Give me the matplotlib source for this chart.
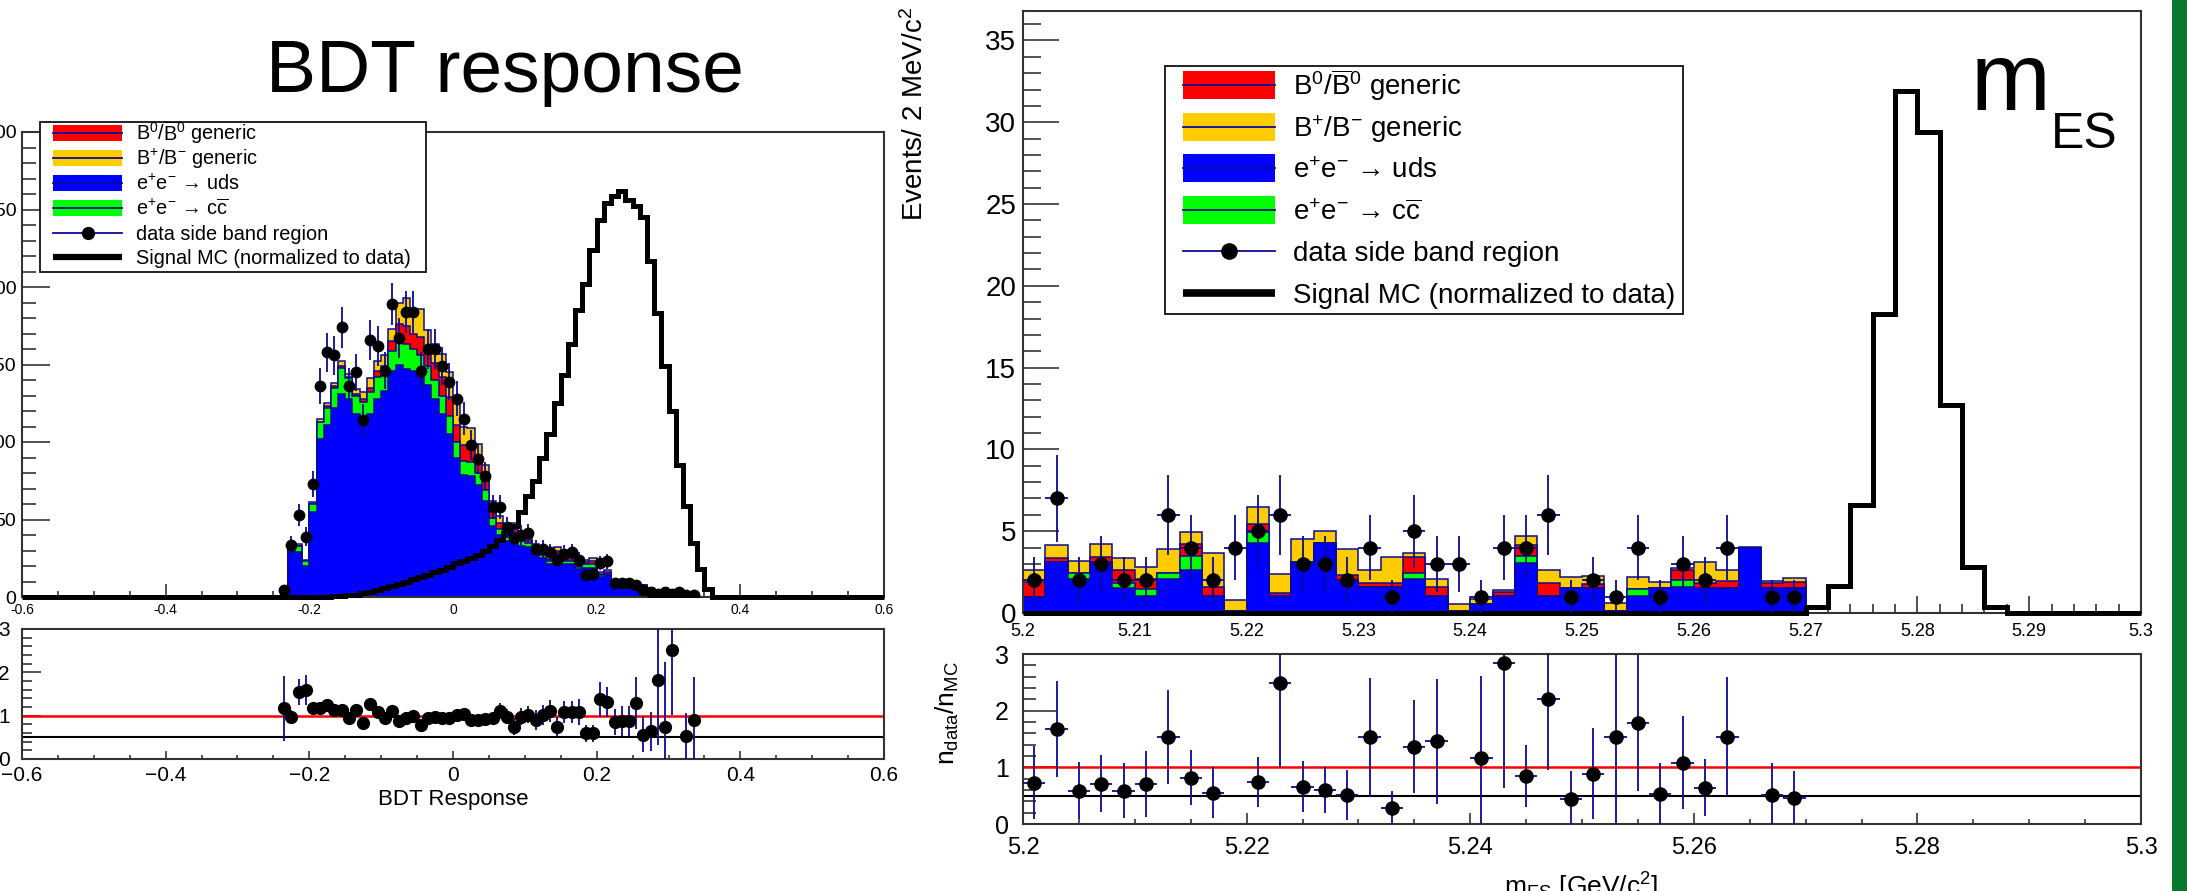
import numpy as np
import matplotlib.pyplot as plt
from matplotlib.patches import Rectangle
from matplotlib.lines import Line2D
from matplotlib.ticker import MultipleLocator, FuncFormatter

plt.rcParams["font.family"] = ["Liberation Sans", "DejaVu Sans"]
plt.rcParams["mathtext.fontset"] = "custom"
plt.rcParams["mathtext.rm"] = "Liberation Sans"
plt.rcParams["mathtext.it"] = "Liberation Sans:italic"
plt.rcParams["mathtext.bf"] = "Liberation Sans:bold"

# ---------------- BDT response: 0.01 bins, first filled bin starts at -0.24 ----------------
bdt_first_bin = 36  # bin index of -0.24 in [-0.6, 0.6]
bdt_uds = [3.5, 30, 29, 20, 55, 102, 111, 122, 131, 128,
           118, 113, 118, 128, 133, 146, 150, 147, 146, 142,
           137, 128, 118, 105, 90, 79, 78, 72, 62, 46,
           40, 36, 38, 33, 32, 28, 25, 21, 26, 21,
           21, 18, 19, 19, 13, 14, 9, 9, 8.5, 5,
           6.5, 4.5, 1.0, 3.5, 0.7, 0.5, 1.7, 1.0, 0, 0]
bdt_ccbar = [0, 3, 4, 3.5, 5, 11, 11, 13, 17, 13,
             12, 13, 14, 14, 12, 13, 16, 16, 14, 14,
             12, 12, 12, 12, 10, 9, 9, 8, 7, 5,
             4, 3, 3, 3, 3, 2, 2, 2, 2, 2,
             2, 1.5, 2, 2, 1, 1, 0.5, 0.5, 0.5, 0.5,
             0.5, 0.3, 0.05, 0.2, 0.05, 0.05, 0.1, 0.05, 0, 0]
bdt_b0 = [0, 0, 0, 0, 0, 0, 1, 1, 1, 1,
          1, 2, 3, 4, 4, 6, 10, 12, 10, 12,
          11, 11, 12, 12, 11, 10, 10, 8, 7, 5,
          4, 3, 3, 2, 2, 2, 1.5, 1.5, 2, 1.5,
          2, 1, 1.5, 2, 1, 1, 0.5, 0.5, 0.5, 0.3,
          0.5, 0.3, 0.02, 0.15, 0.02, 0.02, 0.05, 0.02, 0, 0]
bdt_bpm = [0, 0, 1, 0.5, 1, 2, 2, 2, 3, 2,
           3, 4, 6, 6, 7, 8, 14, 18, 15, 18,
           12, 12, 15, 16, 14, 12, 12, 11, 9, 6,
           4, 4, 4, 3, 3, 2, 1.5, 2, 2, 2,
           2, 1.5, 1.5, 2, 1, 1.5, 0.5, 0.5, 0.5, 0.4,
           0.5, 0.4, 0.03, 0.15, 0.03, 0.03, 0.05, 0.03, 0, 0]
bdt_signal = [0, 0, 0, 0, 0, 0, 0.3, 0.5, 0.7, 1,
              1.5, 2.5, 3.5, 4.5, 5.5, 7, 8.5, 10, 11.5, 13,
              14.5, 16, 17.5, 19.5, 22, 23.5, 25, 27, 30, 33,
              37, 41, 46, 55, 65, 75, 90, 105, 125, 143,
              163, 185, 202, 224, 243, 254, 259, 262, 256, 252,
              245, 217, 183, 149, 120, 85, 59, 35, 18, 5]
bdt_data = [4.5, 33.5, 53, 39, 73, 136, 158, 156, 174, 136,
            145, 114, 166, 162, 146, 189, 167, 184, 184, 146,
            160, 160, 149, 139, 128, 115, 98, 89, 78, 58,
            58, 45, 38, 40, 41, 31, 31, 29, 24, 28,
            29, 24, 14, 15, 22, 23, 9, 9, 9, 8,
            4.5, 3.5, 2, 3, 2, 3, 1, 1, 0, 0]
bdt_ratio = [1.17, 0.98, 1.55, 1.59, 1.17, 1.17, 1.25, 1.13, 1.13, 0.94,
             1.13, 0.82, 1.26, 1.08, 0.94, 1.11, 0.88, 0.95, 1.0, 0.78,
             0.94, 0.98, 0.95, 0.95, 1.02, 1.05, 0.9, 0.9, 0.92, 0.94,
             1.11, 0.98, 0.75, 0.98, 1.02, 0.9, 1.02, 1.11, 0.75, 1.08,
             1.08, 1.08, 0.59, 0.59, 1.38, 1.31, 0.86, 0.87, 0.87, 1.29,
             0.56, 0.64, 1.83, 0.75, 2.52, np.nan, 0.52, 0.9, np.nan, np.nan]
bdt_ratio_err = [0.75, 0.15, 0.3, 0.35, 0.15, 0.1, 0.1, 0.1, 0.1, 0.1,
                 0.1, 0.1, 0.1, 0.1, 0.1, 0.1, 0.1, 0.1, 0.1, 0.1,
                 0.1, 0.1, 0.1, 0.1, 0.1, 0.1, 0.1, 0.12, 0.12, 0.15,
                 0.18, 0.18, 0.2, 0.2, 0.2, 0.22, 0.23, 0.25, 0.22, 0.25,
                 0.25, 0.3, 0.2, 0.2, 0.4, 0.35, 0.3, 0.35, 0.35, 0.6,
                 0.4, 0.45, 1.5, 1.5, 1.5, np.nan, 0.55, 1.0, np.nan, np.nan]

# ---------------- mES: 2 MeV bins from 5.20 to 5.30 ----------------
mes_uds = [1.0, 3.14, 2.1, 3.1, 1.55, 1.04, 2.08, 2.6, 1.04, 0.15,
           4.26, 1.04, 3.14, 4.26, 2.0, 1.57, 1.57, 2.08, 1.04, 0.1,
           0.55, 1.05, 3.08, 1.04, 1.5, 1.5, 0.1, 1.04, 1.5, 1.6,
           1.5, 1.55, 3.95, 1.55, 1.55]
mes_ccbar = [0, 0, 0.36, 0, 0.3, 0.42, 0.38, 0.9, 0, 0,
             0.71, 0, 0, 0, 0, 0, 0, 0.38, 0, 0,
             0, 0, 0.42, 0, 0, 0, 0, 0.41, 0, 0.4,
             0, 0, 0, 0, 0]
mes_b0 = [0.9, 0.24, 0, 0.3, 0.8, 0.64, 0, 0.7, 0.56, 0,
          0.5, 0.16, 0, 0, 0.3, 0.25, 0.25, 0.98, 0.55, 0,
          0, 0.25, 0.65, 0.81, 0, 0.3, 0, 0, 0, 0.65,
          0.35, 0.4, 0, 0.3, 0.35]
mes_bpm = [0.7, 0.75, 0.74, 0.8, 0.7, 0.72, 1.46, 0.75, 2.04, 0.65,
           1.03, 1.21, 1.41, 0.74, 1.6, 0.78, 1.58, 0.24, 0.46, 0.45,
           0.3, 0.1, 0.55, 0.8, 0.7, 0.45, 0.5, 0.75, 0.4, 0.13,
           1.25, 0.65, 0.1, 0.1, 0.25]
mes_signal = [0] * 35 + [0.35, 1.63, 6.6, 18.3, 31.9, 29.4, 12.7, 2.8, 0.37,
                         0, 0, 0, 0, 0, 0]
mes_data = [2, 7, 2, 3, 2, 2, 6, 4, 2, 4,
            5, 6, 3, 3, 2, 4, 1, 5, 3, 3,
            1, 4, 4, 6, 1, 2, 1, 4, 1, 3,
            2, 4, 0, 1, 1]
mes_ratio = [0.73, 1.68, 0.59, 0.71, 0.59, 0.71, 1.53, 0.82, 0.55, np.nan,
             0.74, 2.49, 0.66, 0.6, 0.51, 1.53, 0.29, 1.36, 1.46, np.nan,
             1.16, 2.84, 0.85, 2.2, 0.44, 0.89, 1.54, 1.79, 0.53, 1.08,
             0.64, 1.54, np.nan, 0.52, 0.46]
mes_ratio_err = [0.65, 0.85, 0.5, 0.5, 0.48, 0.58, 0.83, 0.48, 0.45, np.nan,
                 0.44, 1.5, 0.45, 0.4, 0.44, 1.05, 0.3, 0.82, 1.1, np.nan,
                 1.45, 2.2, 0.55, 1.25, 0.5, 0.8, 1.6, 1.2, 0.55, 0.82,
                 0.5, 1.05, np.nan, 0.55, 0.48]

legend_labels = [r"B$^{0}$/$\overline{\mathrm{B}}^{0}$ generic",
                 r"B$^{+}$/B$^{-}$ generic",
                 r"e$^{+}$e$^{-}$ → uds",
                 r"e$^{+}$e$^{-}$ → c$\overline{\mathrm{c}}$",
                 "data side band region",
                 "Signal MC (normalized to data)"]

RED, ORANGE, BLUE, GREEN = "#ff0000", "#ffcc00", "#0000ff", "#00ff00"
NAVY = "#0a0a96"
W, H = 2187, 891


def fig_rect(x0, y0, x1, y1):
    return [x0 / W, 1 - y1 / H, (x1 - x0) / W, (y1 - y0) / H]


def fx(x):
    return x / W


def fy(y):
    return 1 - y / H


def pad(vals, n, start):
    out = np.zeros(n)
    out[start:start + len(vals)] = vals
    return out


def draw_stack(ax, edges, layers, colors):
    tops = np.cumsum(np.array(layers), axis=0)
    for top, color in reversed(list(zip(tops, colors))):
        ax.stairs(top, edges, baseline=0, fill=True, facecolor=color,
                  edgecolor=NAVY, linewidth=1.1, zorder=2)


def style_axes(ax, xmaj, xmin, ymaj, ymin, xlen, ylen, xsize, ysize, xpad, ypad, fmt):
    ax.xaxis.set_major_locator(MultipleLocator(xmaj))
    ax.xaxis.set_minor_locator(MultipleLocator(xmin))
    ax.yaxis.set_major_locator(MultipleLocator(ymaj))
    ax.yaxis.set_minor_locator(MultipleLocator(ymin))
    ax.xaxis.set_major_formatter(FuncFormatter(fmt))
    ax.yaxis.set_major_formatter(FuncFormatter(lambda v, p: f"{round(v, 4):g}"))
    ax.tick_params(axis="x", which="major", direction="in", length=xlen[0], width=1.1,
                   labelsize=xsize, pad=xpad, color="#222222")
    ax.tick_params(axis="x", which="minor", direction="in", length=xlen[1], width=1.1, color="#222222")
    ax.tick_params(axis="y", which="major", direction="in", length=ylen[0], width=1.1,
                   labelsize=ysize, pad=ypad, color="#222222")
    ax.tick_params(axis="y", which="minor", direction="in", length=ylen[1], width=1.1, color="#222222")
    for s in ax.spines.values():
        s.set_linewidth(1.5)
        s.set_color("#333333")


def draw_legend(fig, box, rows, hx, rect_h, tx, fsize, msize, sig_lw):
    x0, y0, x1, y1 = box
    fig.add_artist(Rectangle((fx(x0), fy(y1)), (x1 - x0) / W, (y1 - y0) / H,
                             transform=fig.transFigure, facecolor="white",
                             edgecolor="#111111", linewidth=1.3, zorder=10))
    kinds = [("fill", RED), ("fill", ORANGE), ("fill", BLUE), ("fill", GREEN),
             ("data", None), ("sig", None)]
    em = fsize * 100 / 72
    for (kind, color), yc, label in zip(kinds, rows, legend_labels):
        if kind == "fill":
            fig.add_artist(Rectangle((fx(hx[0]), fy(yc + rect_h / 2)), (hx[1] - hx[0]) / W, rect_h / H,
                                     transform=fig.transFigure, facecolor=color,
                                     edgecolor="none", zorder=11))
            fig.add_artist(Line2D([fx(hx[0]), fx(hx[1])], [fy(yc)] * 2, transform=fig.transFigure,
                                  color=NAVY, lw=1.3, zorder=12))
        elif kind == "data":
            fig.add_artist(Line2D([fx(hx[0]), fx(hx[1])], [fy(yc)] * 2, transform=fig.transFigure,
                                  color=NAVY, lw=1.3, zorder=12))
            fig.add_artist(Line2D([fx((hx[0] + hx[1]) / 2)], [fy(yc)], transform=fig.transFigure,
                                  marker="o", color="black", markersize=msize, zorder=13))
        else:
            fig.add_artist(Line2D([fx(hx[0]), fx(hx[1])], [fy(yc)] * 2, transform=fig.transFigure,
                                  color="black", lw=sig_lw, solid_capstyle="butt", zorder=12))
        fig.text(fx(tx), fy(yc + 0.36 * em), label, fontsize=fsize, va="baseline",
                 ha="left", zorder=13)


fig = plt.figure(figsize=(W / 100, H / 100), dpi=100)

ax_bdt = fig.add_axes(fig_rect(22, 132, 884, 597))
ax_bdt_r = fig.add_axes(fig_rect(22, 629, 884, 759))
ax_mes = fig.add_axes(fig_rect(1023, 11, 2141, 613))
ax_mes_r = fig.add_axes(fig_rect(1023, 654, 2141, 824))

# ---------------- left: BDT response ----------------
edges_bdt = np.round(np.linspace(-0.6, 0.6, 121), 4)
centers_bdt = 0.5 * (edges_bdt[:-1] + edges_bdt[1:])
layers = [pad(v, 120, bdt_first_bin) for v in (bdt_uds, bdt_ccbar, bdt_b0, bdt_bpm)]
draw_stack(ax_bdt, edges_bdt, layers, [BLUE, GREEN, RED, ORANGE])
ax_bdt.stairs(pad(bdt_signal, 120, bdt_first_bin), edges_bdt, color="black", lw=3.6,
              zorder=4, clip_on=False)
d = pad(bdt_data, 120, bdt_first_bin)
m = d > 0
ax_bdt.errorbar(centers_bdt[m], d[m], yerr=np.sqrt(d[m]), xerr=0.005, fmt="o", color="black",
                ecolor=NAVY, elinewidth=1.3, markersize=7.5, capsize=0, zorder=5)
ax_bdt.set_xlim(-0.6, 0.6)
ax_bdt.set_ylim(0, 300)
style_axes(ax_bdt, 0.2, 0.05, 50, 10, (9.5, 4.5), (20, 10), 10, 14, 4, 4,
           lambda v, p: f"{round(v, 4):g}")

r = pad(bdt_ratio, 120, bdt_first_bin)
re = pad(bdt_ratio_err, 120, bdt_first_bin)
mr = np.isfinite(r) & (r > 0)
ax_bdt_r.axhline(1.0, color=RED, lw=1.8, zorder=2)
ax_bdt_r.axhline(0.5, color="black", lw=1.5, zorder=2)
ax_bdt_r.errorbar(centers_bdt[mr], r[mr], yerr=re[mr], xerr=0.005, fmt="o", color="black",
                  ecolor=NAVY, elinewidth=1.3, markersize=8.5, capsize=0, zorder=5)
ax_bdt_r.set_xlim(-0.6, 0.6)
ax_bdt_r.set_ylim(0, 3)
style_axes(ax_bdt_r, 0.2, 0.05, 1, 0.2, (5.8, 2.9), (14, 7), 15, 15, 5, 9,
           lambda v, p: f"{round(v, 4):g}".replace("-", "\u2212"))
fig.text(fx(453), fy(789), "BDT Response", fontsize=16, ha="center", va="top")

fig.text(fx(505), fy(92), "BDT response", fontsize=54, ha="center", va="baseline")

# ---------------- right: mES ----------------
edges_mes = np.round(np.linspace(5.2, 5.3, 51), 4)
centers_mes = 0.5 * (edges_mes[:-1] + edges_mes[1:])
layers = [pad(v, 50, 0) for v in (mes_uds, mes_ccbar, mes_b0, mes_bpm)]
draw_stack(ax_mes, edges_mes, layers, [BLUE, GREEN, RED, ORANGE])
ax_mes.stairs(np.array(mes_signal, dtype=float), edges_mes, color="black", lw=3.6,
              zorder=4, clip_on=False)
d = pad(mes_data, 50, 0)
m = d > 0
ax_mes.errorbar(centers_mes[m], d[m], yerr=np.sqrt(d[m]), xerr=0.001, fmt="o", color="black",
                ecolor=NAVY, elinewidth=1.3, markersize=9.5, capsize=0, zorder=5)
ax_mes.set_xlim(5.2, 5.3)
ax_mes.set_ylim(0, 36.8)
style_axes(ax_mes, 0.01, 0.002, 5, 1, (12, 6.5), (26, 13), 13, 20, 7, 5,
           lambda v, p: f"{round(v, 4):g}")

r = pad(mes_ratio, 50, 0)
re = pad(mes_ratio_err, 50, 0)
mr = np.isfinite(r) & (r > 0)
ax_mes_r.axhline(1.0, color=RED, lw=1.8, zorder=2)
ax_mes_r.axhline(0.5, color="black", lw=1.5, zorder=2)
ax_mes_r.errorbar(centers_mes[mr], r[mr], yerr=re[mr], xerr=0.001, fmt="o", color="black",
                  ecolor=NAVY, elinewidth=1.3, markersize=9.5, capsize=0, zorder=5)
ax_mes_r.set_xlim(5.2, 5.3)
ax_mes_r.set_ylim(0, 3)
style_axes(ax_mes_r, 0.02, 0.005, 1, 0.2, (8, 3.6), (24, 9), 17, 18, 9, 10,
           lambda v, p: f"{round(v, 4):g}")

fig.text(fx(915), fy(7), r"Events/ 2 MeV/c$^{2}$", fontsize=20, rotation=90,
         ha="center", va="top")
fig.text(fx(947), fy(713), r"n$_{\mathrm{data}}$/n$_{\mathrm{MC}}$", fontsize=19,
         rotation=90, ha="center", va="center")
fig.text(fx(1581), fy(871), r"m$_{\mathrm{ES}}$ [GeV/c$^{2}$]", fontsize=19,
         ha="center", va="top")
fig.text(fx(1971), fy(110), "m", fontsize=69, ha="left", va="baseline")
fig.text(fx(2051), fy(148), "ES", fontsize=36, ha="left", va="baseline")

# legends
draw_legend(fig, (40, 122, 426, 272), [133, 158, 183, 208, 233, 257], (53, 122), 16, 136,
            14.3, 8.5, 4.5)
draw_legend(fig, (1165, 66, 1683, 314), [85, 127, 168, 210, 251, 293], (1183, 1275), 28, 1293,
            20, 11, 5.5)

# green strip on the right edge of the slide
fig.add_artist(Rectangle((fx(2172), 0), 15 / W, 1, transform=fig.transFigure,
                         facecolor="#08782c", edgecolor="none"))

fig.savefig("out.png", dpi=100)
